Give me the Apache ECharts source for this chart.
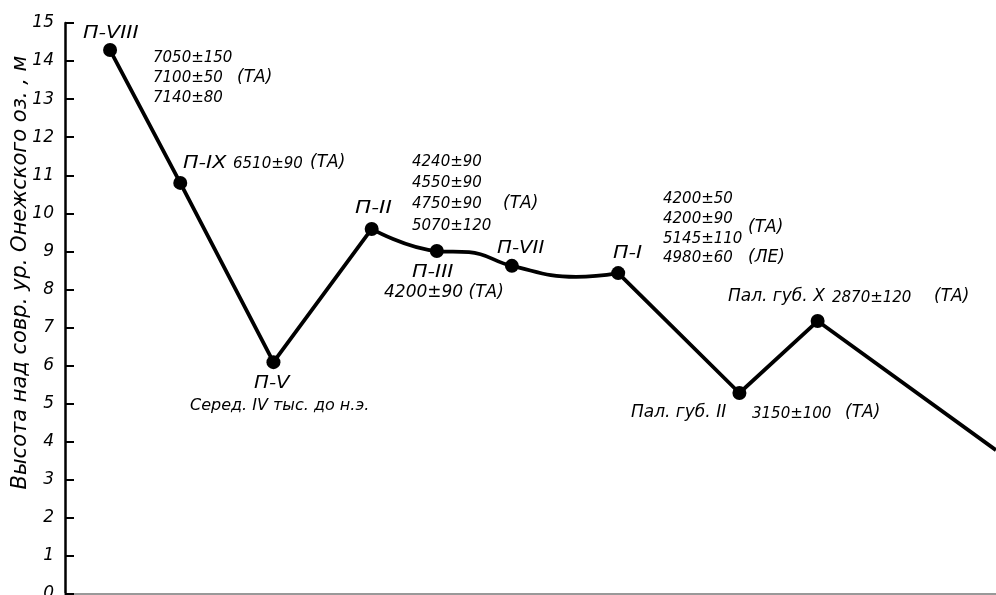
<!DOCTYPE html>
<html>
<head>
<meta charset="utf-8">
<script src="https://cdn.jsdelivr.net/npm/echarts@6/dist/echarts.min.js"></script>
<style>
html, body { margin: 0; padding: 0; background: #fff; }
#chart { width: 996px; height: 595px; }
</style>
</head>
<body>
<div id="chart"></div>
<script>
// точки профиля (расстояние условное, высота в м)
var sites = ['П-VIII', 'П-IX', 'П-V', 'П-II', 'П-III', 'П-VII', 'П-I', 'Пал. губ. II', 'Пал. губ. X'];
var distance = [4.84, 12.38, 22.39, 32.94, 39.94, 48.0, 59.42, 72.44, 80.84];
var height = [14.29, 10.8, 6.09, 9.59, 9.01, 8.62, 8.43, 5.28, 7.17];

// ломаная части линии
var leftX = [4.84, 12.38, 22.39, 32.94];
var leftY = [14.29, 10.8, 6.09, 9.59];
// волнистый участок П-II ... П-I
var waveX = [32.94, 39.94, 43.4, 48.0, 54.9, 59.42];
var waveY = [9.59, 9.01, 8.98, 8.62, 8.33, 8.43];
var rightX = [59.42, 72.44, 80.84, 100];
var rightY = [8.43, 5.28, 7.17, 3.78];

var yTicks = [0, 15, 1]; // min, max, шаг

function pairs(xs, ys) {
    return xs.map(function (x, i) { return [x, ys[i]]; });
}

var chart = echarts.init(document.getElementById('chart'));

var fontMain = 'DejaVu Sans';
var lineStyle = { color: '#000', width: 3.8 };

function txt(x, y, text, size, sx) {
    return {
        type: 'text',
        x: x,
        y: y,
        scaleX: sx || 1,
        style: {
            text: text,
            fill: '#000',
            font: 'italic ' + (size || 15) + 'px "' + fontMain + '"',
            verticalAlign: 'middle'
        }
    };
}

chart.setOption({
    animation: false,
    grid: {
        left: 65,
        right: 0,
        top: 23,
        bottom: 1,
        outerBoundsMode: 'none'
    },
    xAxis: {
        type: 'value',
        min: 0,
        max: 100,
        axisLine: { show: true, lineStyle: { color: '#999', width: 2 } },
        axisTick: { show: false },
        axisLabel: { show: false },
        splitLine: { show: false }
    },
    yAxis: {
        type: 'value',
        min: yTicks[0],
        max: yTicks[1],
        interval: yTicks[2],
        name: 'Высота над совр. ур. Онежского оз. , м',
        nameLocation: 'middle',
        nameRotate: 90,
        nameGap: 34,
        nameMoveOverlap: false,
        nameTextStyle: {
            color: '#000',
            fontFamily: fontMain,
            fontStyle: 'italic',
            fontSize: 21,
            padding: [0, 0, 0, 72]
        },
        axisLine: { show: true, lineStyle: { color: '#000', width: 2.5 } },
        axisTick: { show: true, inside: true, length: 9, lineStyle: { color: '#000', width: 2 } },
        axisLabel: {
            color: '#000',
            fontFamily: fontMain,
            fontStyle: 'italic',
            fontSize: 17,
            margin: 11
        },
        splitLine: { show: false }
    },
    series: [
        {
            type: 'line',
            data: pairs(leftX, leftY),
            symbol: 'none',
            lineStyle: lineStyle
        },
        {
            type: 'line',
            data: pairs(waveX, waveY),
            symbol: 'none',
            smooth: 0.45,
            lineStyle: lineStyle
        },
        {
            type: 'line',
            data: pairs(rightX, rightY),
            symbol: 'none',
            lineStyle: lineStyle
        },
        {
            type: 'scatter',
            name: 'точки',
            data: distance.map(function (d, i) { return { name: sites[i], value: [d, height[i]] }; }),
            symbol: 'circle',
            symbolSize: 14,
            itemStyle: { color: '#000', opacity: 1 },
            z: 5
        }
    ],
    graphic: [
        txt(83, 33, 'П-VIII', 18, 1.15),
        txt(153, 58, '7050±150', 15),
        txt(153, 78, '7100±50', 15),
        txt(237, 78, '(ТА)', 17),
        txt(153, 98, '7140±80', 15),

        txt(183, 163, 'П-IX', 18, 1.15),
        txt(233, 164, '6510±90', 15),
        txt(310, 163, '(ТА)', 17),

        txt(254, 383, 'П-V', 18, 1.1),
        txt(190, 406, 'Серед. IV тыс. до н.э.', 16),

        txt(355, 208, 'П-II', 18, 1.2),
        txt(412, 162, '4240±90', 15),
        txt(412, 183, '4550±90', 15),
        txt(412, 204, '4750±90', 15),
        txt(503, 204, '(ТА)', 17),
        txt(412, 226, '5070±120', 15),

        txt(412, 272, 'П-III', 18, 1.15),
        txt(384, 293, '4200±90 (ТА)', 17),

        txt(497, 248, 'П-VII', 18, 1.1),

        txt(613, 253, 'П-I', 18, 1.15),
        txt(663, 199, '4200±50', 15),
        txt(663, 219, '4200±90', 15),
        txt(748, 228, '(ТА)', 17),
        txt(663, 239, '5145±110', 15),
        txt(663, 258, '4980±60', 15),
        txt(748, 258, '(ЛЕ)', 17),

        txt(728, 297, 'Пал. губ. X', 17),
        txt(832, 298, '2870±120', 15),
        txt(934, 297, '(ТА)', 17),

        txt(631, 413, 'Пал. губ. II', 17),
        txt(752, 414, '3150±100', 15),
        txt(845, 413, '(ТА)', 17)
    ]
});
</script>
</body>
</html>
